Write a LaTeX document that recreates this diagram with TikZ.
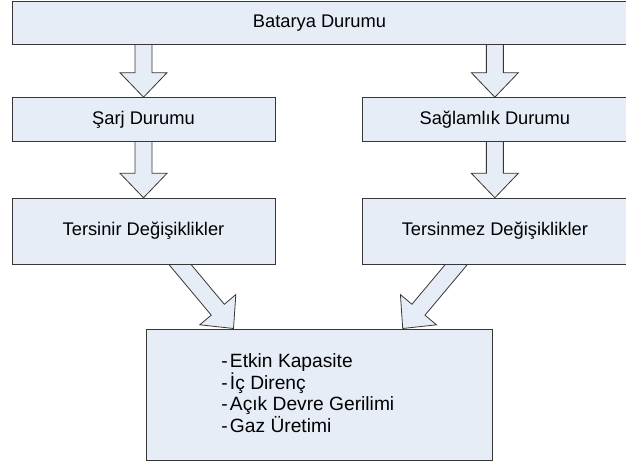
\documentclass[tikz,border=0pt]{standalone}
\usepackage{fontspec}
\setmainfont{Liberation Sans}
\usetikzlibrary{calc,backgrounds}
\definecolor{boxfill}{RGB}{230,237,247}
\definecolor{boxline}{RGB}{55,55,55}
\newcommand{\myblockarrow}[2]{%
  \coordinate (bah) at ($(#2)!24.5pt!(#1)$);
  \draw[barrow] ($(#1)!8.5pt!90:(#2)$) -- ($(bah)!8.5pt!-90:(#1)$) -- ($(bah)!23.5pt!-90:(#1)$) -- (#2)
     -- ($(bah)!23.5pt!90:(#1)$) -- ($(bah)!8.5pt!90:(#1)$) -- ($(#1)!8.5pt!-90:(#2)$) -- cycle;
}
\begin{document}
\begin{tikzpicture}[x=1pt,y=-1pt,
  box/.style={draw=boxline,fill=boxfill,line width=1pt,inner sep=0pt,font=\fontsize{18.3}{21}\selectfont},
  listtxt/.style={inner sep=0pt,font=\fontsize{19.2}{21}\selectfont,anchor=base west},
  barrow/.style={draw=boxline,fill=boxfill,line width=0.8pt,line join=miter}]
\useasboundingbox (0,0) rectangle (626,463);
\clip (0,0) rectangle (626,463);

\node[box, minimum width=615pt, minimum height=42.6pt] (top) at (319.5,23.0) {Batarya Durumu};
\node[box, minimum width=263pt, minimum height=44pt] (sarj) at (143.5,119.7) {Şarj Durumu};
\node[box, minimum width=264.3pt, minimum height=44pt] (sag) at (494.85,119.7) {Sağlamlık Durumu};
\node[box, minimum width=263pt, minimum height=65.7pt] (ters) at (143.5,231.15) {Tersinir Değişiklikler};
\node[box, minimum width=264.3pt, minimum height=65.7pt] (tersm) at (494.85,231.15) {Tersinmez Değişiklikler};
\node[box, minimum width=346pt, minimum height=131pt] (bot) at (319,394.5) {};

\node[listtxt] (l1) at (221.2,367.3) {-\kern2.2pt Etkin Kapasite};
\node[listtxt] (l2) at (221.2,389.1) {-\kern2.2pt İç Direnç};
\node[listtxt] (l3) at (221.2,410.9) {-\kern2.2pt Açık Devre Gerilimi};
\node[listtxt] (l4) at (221.2,432.7) {-\kern2.2pt Gaz Üretimi};

\begin{pgfonlayer}{background}
  \fill[white] (0,0) rectangle (626,463);
  \coordinate (a1s) at ($(sarj.north |- top.south)+(0,-2)$);
  \myblockarrow{a1s}{sarj.north}
  \coordinate (a2s) at ($(sag.north |- top.south)+(0,-2)$);
  \myblockarrow{a2s}{sag.north}
  \coordinate (a3s) at ($(sarj.south)+(0,-2)$);
  \myblockarrow{a3s}{ters.north}
  \coordinate (a4s) at ($(sag.south)+(0,-2)$);
  \myblockarrow{a4s}{tersm.north}
  \coordinate (a5o) at ($(ters.south)+(36.5,0)$);
  \coordinate (a5t) at ($(bot.north)+(-85.5,0)$);
  \coordinate (a5s) at ($(a5o)!-6pt!(a5t)$);
  \myblockarrow{a5s}{a5t}
  \coordinate (a6o) at ($(tersm.south)+(-38.5,0)$);
  \coordinate (a6t) at ($(bot.north)+(83.7,0)$);
  \coordinate (a6s) at ($(a6o)!-6pt!(a6t)$);
  \myblockarrow{a6s}{a6t}
\end{pgfonlayer}
\end{tikzpicture}
\end{document}
